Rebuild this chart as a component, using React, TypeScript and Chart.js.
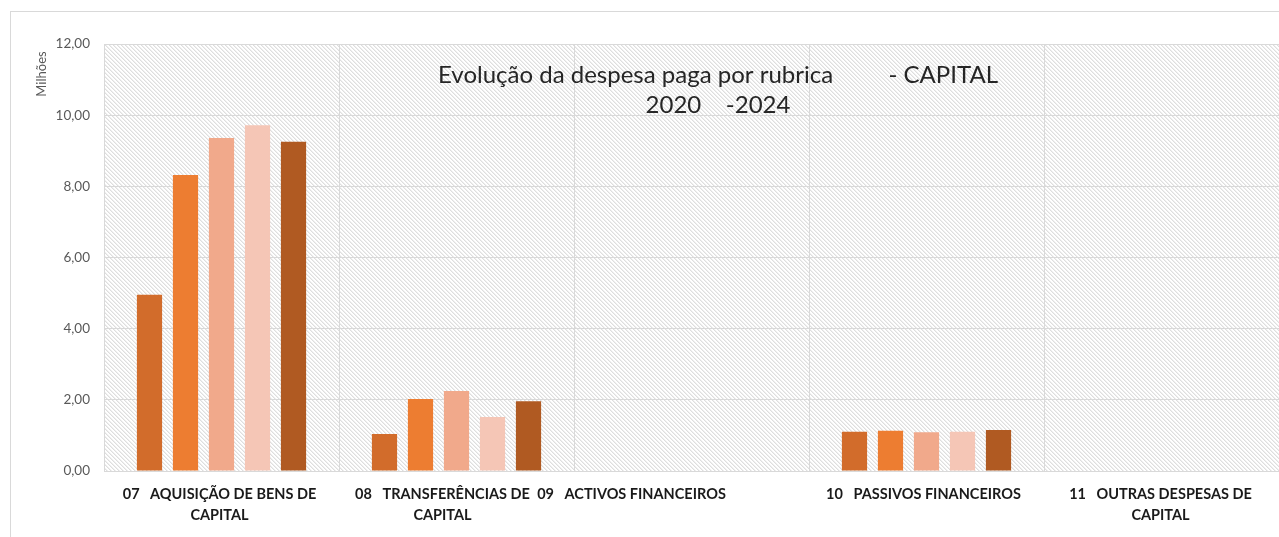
import React, { useEffect, useRef } from "react";
import { Chart, registerables } from "chart.js";

Chart.register(...registerables);

const categories: string[][] = [
  ["07   AQUISIÇÃO DE BENS DE", "CAPITAL"],
  ["08   TRANSFERÊNCIAS DE", "CAPITAL"],
  ["09   ACTIVOS FINANCEIROS"],
  ["10   PASSIVOS FINANCEIROS"],
  ["11   OUTRAS DESPESAS DE", "CAPITAL"],
];
const labelShift = [-2, -14, -60, -3, -1];
const years = ["2020", "2021", "2022", "2023", "2024"];
const values2020 = [4.95, 1.04, 0, 1.1, 0];
const values2021 = [8.32, 2.02, 0, 1.13, 0];
const values2022 = [9.36, 2.25, 0, 1.09, 0];
const values2023 = [9.72, 1.52, 0, 1.1, 0];
const values2024 = [9.25, 1.96, 0, 1.15, 0];
const seriesColors = ["#D26C2B", "#ED7D31", "#F1A98B", "#F5C6B6", "#B05A22"];
const yTicks = [0, 2, 4, 6, 8, 10, 12];
const titleLines = ["Evolução da despesa paga por rubrica         - CAPITAL", "2020    -2024"];
const yAxisTitle = "Milhões";

const FONT = "Lato, 'Open Sans', sans-serif";

function makePattern(ctx: CanvasRenderingContext2D) {
  const c = document.createElement("canvas");
  c.width = 4;
  c.height = 4;
  const g = c.getContext("2d")!;
  g.fillStyle = "#FFFFFF";
  g.fillRect(0, 0, 4, 4);
  for (let i = 0; i < 4; i++) {
    g.fillStyle = "#DEDEDE";
    g.fillRect(i, i, 1, 1);
    g.fillStyle = "#EFEFEF";
    g.fillRect((i + 1) % 4, i, 1, 1);
  }
  return ctx.createPattern(c, "repeat");
}

export default function App() {
  const ref = useRef<HTMLCanvasElement | null>(null);

  useEffect(() => {
    document.body.style.margin = "0";
    document.body.style.overflow = "hidden";
    const canvas = ref.current!;
    const series = [values2020, values2021, values2022, values2023, values2024];

    const decor = {
      id: "decor",
      beforeDraw(chart: any) {
        const { ctx, chartArea } = chart;
        ctx.save();
        ctx.fillStyle = "#FFFFFF";
        ctx.fillRect(0, 0, chart.width, chart.height);
        ctx.strokeStyle = "#D9D9D9";
        ctx.lineWidth = 1;
        ctx.strokeRect(10.5, 11.5, chart.width + 200, chart.height + 200);
        const pat = makePattern(ctx);
        if (pat) {
          ctx.fillStyle = pat;
          ctx.fillRect(chartArea.left, chartArea.top, chartArea.right - chartArea.left, chartArea.bottom - chartArea.top);
        }
        ctx.translate(42, 74);
        ctx.rotate(-Math.PI / 2);
        ctx.fillStyle = "#595959";
        ctx.font = `13px ${FONT}`;
        ctx.textAlign = "center";
        ctx.textBaseline = "middle";
        ctx.fillText(yAxisTitle, 0, 0);
        ctx.restore();
      },
      afterDraw(chart: any) {
        const { ctx, chartArea } = chart;
        const xs = chart.scales.x;
        ctx.save();
        ctx.fillStyle = "#262626";
        ctx.font = `24px ${FONT}`;
        ctx.textAlign = "center";
        ctx.textBaseline = "middle";
        ctx.fillText(titleLines[0], 718, 75);
        ctx.fillText(titleLines[1], 718, 105);
        ctx.fillStyle = "#1A1A1A";
        ctx.font = `bold 14.5px ${FONT}`;
        categories.forEach((lines, i) => {
          const cx = xs.getPixelForValue(i) + labelShift[i];
          lines.forEach((ln, j) => {
            ctx.fillText(ln, cx, chartArea.bottom + 23 + j * 21);
          });
        });
        ctx.restore();
      },
    };

    const chart = new Chart(canvas, {
      type: "bar",
      data: {
        labels: categories.map((c) => c.join(" ")),
        datasets: series.map((d, i) => ({
          label: years[i],
          data: d,
          backgroundColor: seriesColors[i],
          borderWidth: 0,
          categoryPercentage: 0.766,
          barPercentage: 0.7,
        })),
      },
      options: {
        animation: false,
        responsive: false,
        layout: { padding: { left: 0, right: 0, top: 44, bottom: 0 } },
        plugins: {
          legend: { display: false },
          title: { display: false },
          tooltip: { enabled: false },
        },
        scales: {
          x: {
            grid: { color: "#D9D9D9", drawTicks: false, offset: true },
            border: { color: "#D9D9D9" },
            ticks: { display: false },
            afterFit(scale: any) {
              scale.height = 66;
            },
          },
          y: {
            min: 0,
            max: 12,
            afterBuildTicks(scale: any) {
              scale.ticks = yTicks.map((v) => ({ value: v }));
            },
            grid: { color: "#D9D9D9", drawTicks: false },
            border: { display: false },
            ticks: {
              color: "#595959",
              font: { family: FONT, size: 13.5 },
              padding: 14,
              callback: (v: any) => Number(v).toFixed(2).replace(".", ","),
            },
            afterFit(scale: any) {
              scale.width = 104;
            },
          },
        },
      },
      plugins: [decor],
    });
    return () => chart.destroy();
  }, []);

  return (
    <div style={{ position: "absolute", left: 0, top: 0, width: 1279, height: 537 }}>
      <canvas ref={ref} width={1279} height={537} />
    </div>
  );
}
